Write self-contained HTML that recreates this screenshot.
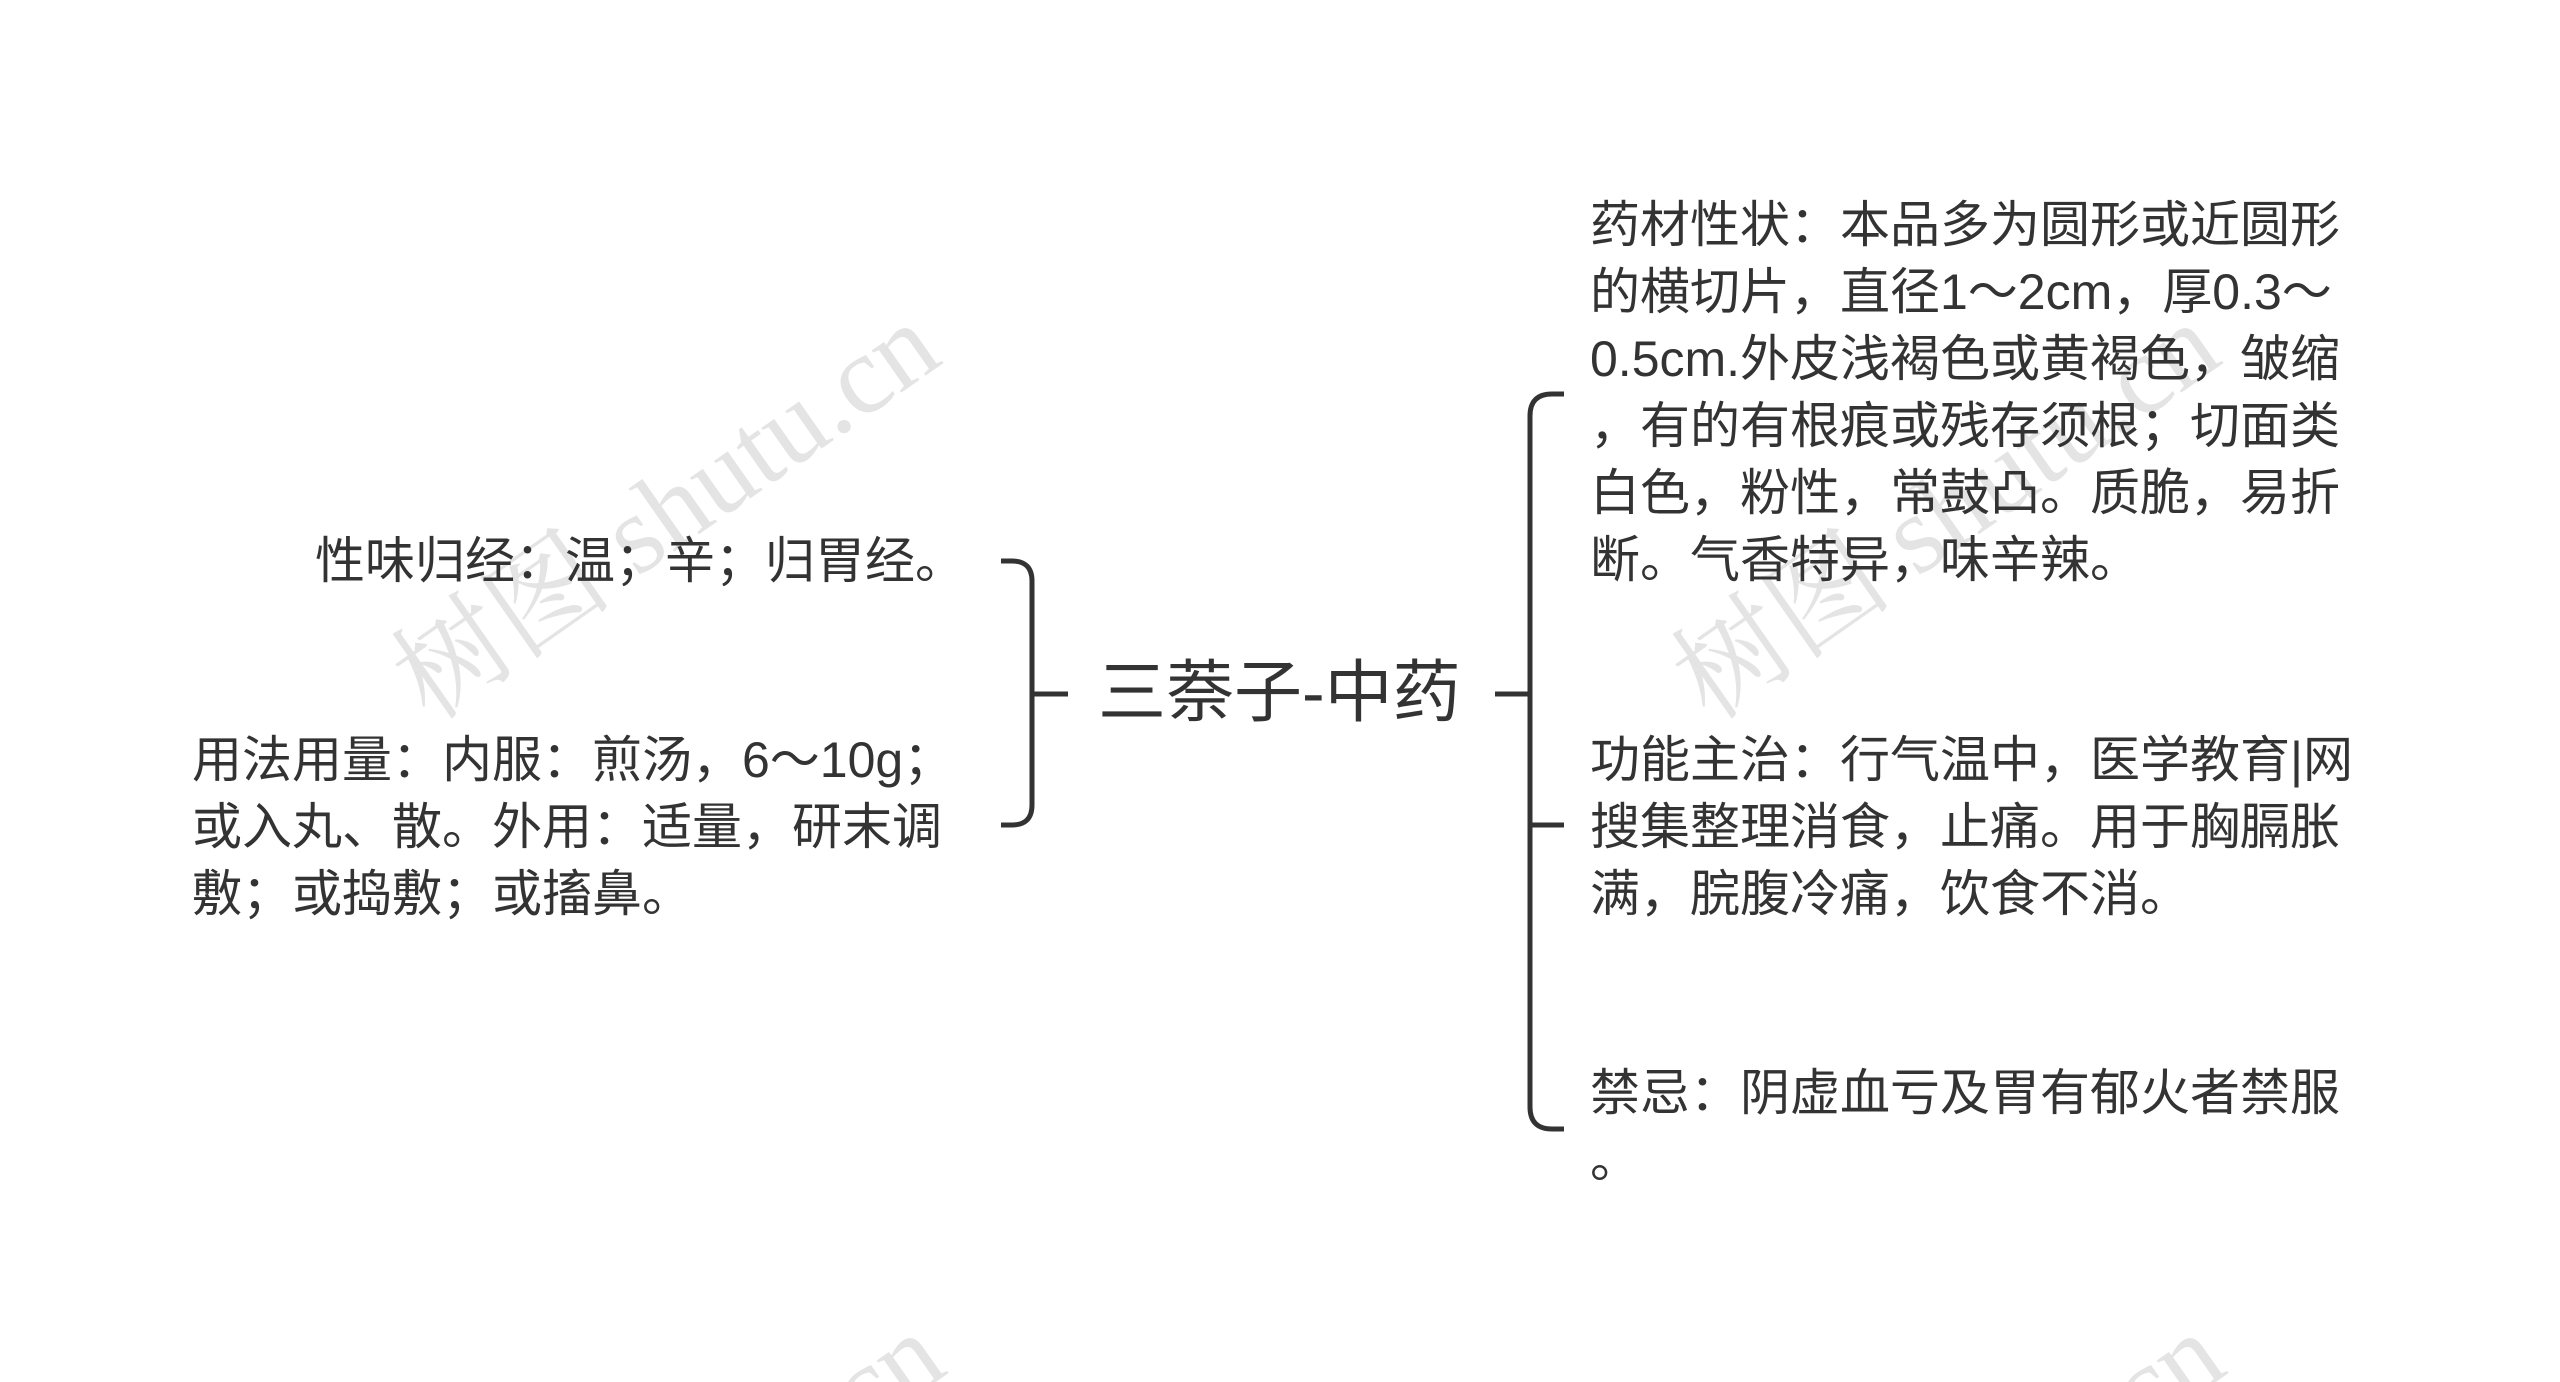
<!DOCTYPE html>
<html style="width:2560px;height:1382px;overflow:hidden;"><head><meta charset="utf-8"><style>
html,body{margin:0;padding:0;background:#fff;}
body{width:2560px;height:1382px;position:relative;overflow:hidden;font-family:"Liberation Sans","Noto Sans CJK SC",sans-serif;color:#333;}
.t{position:absolute;font-size:50px;line-height:67px;white-space:nowrap;}
</style></head><body>
<svg width="2560" height="1382" style="position:absolute;left:0;top:0" fill="none" stroke="#333" stroke-width="5">
<g fill="#e4e4e4" stroke="none" font-family="Liberation Serif, Noto Serif CJK SC, serif" font-size="112" text-anchor="end">
<text x="945" y="362" transform="rotate(-35 945 362)">树图 shutu.cn</text>
<text x="2225" y="362" transform="rotate(-35 2225 362)">树图 shutu.cn</text>
<text x="950" y="1372" transform="rotate(-35 950 1372)">shutu.cn</text>
<text x="2230" y="1372" transform="rotate(-35 2230 1372)">shutu.cn</text>
</g>
<path d="M1001 561 H1012 Q1032 561 1032 581 V805 Q1032 825 1012 825 H1001"/>
<path d="M1032 694 H1068"/>
<path d="M1495 694 H1530"/>
<path d="M1564 394 H1552 Q1530 394 1530 416 V1107 Q1530 1129 1552 1129 H1564"/>
<path d="M1530 825 H1564"/>
</svg>
<div class="t" style="left:1098px;top:648px;font-size:68px;line-height:90px;">三萘子-中药</div>
<div class="t" style="right:1595px;top:528px;">性味归经：温；辛；归胃经。</div>
<div class="t" style="left:192px;top:727px;">用法用量：内服：煎汤，6～10g；<br>或入丸、散。外用：适量，研末调<br>敷；或捣敷；或搐鼻。</div>
<div class="t" style="left:1590px;top:192px;">药材性状：本品多为圆形或近圆形<br>的横切片，直径1～2cm，厚0.3～<br>0.5cm.外皮浅褐色或黄褐色，皱缩<br>，有的有根痕或残存须根；切面类<br>白色，粉性，常鼓凸。质脆，易折<br>断。气香特异，味辛辣。</div>
<div class="t" style="left:1590px;top:727px;">功能主治：行气温中，医学教育|网<br>搜集整理消食，止痛。用于胸膈胀<br>满，脘腹冷痛，饮食不消。</div>
<div class="t" style="left:1590px;top:1060px;">禁忌：阴虚血亏及胃有郁火者禁服<br>。</div>
</body></html>
